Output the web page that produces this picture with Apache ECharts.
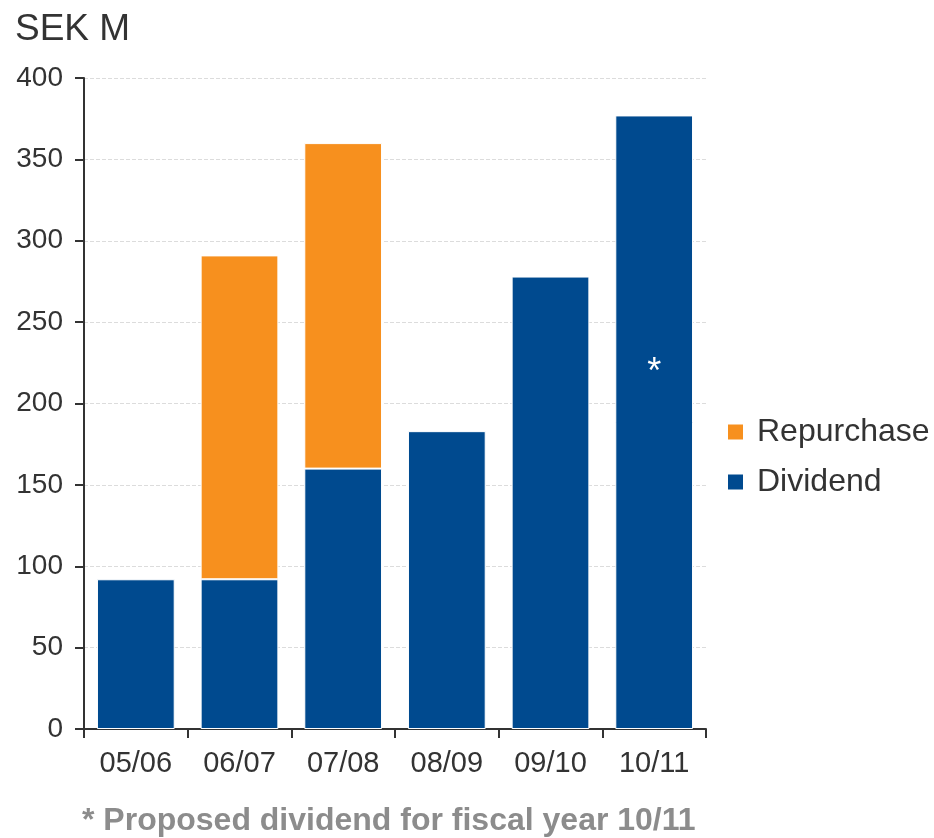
<!DOCTYPE html>
<html>
<head>
<meta charset="utf-8">
<script src="https://cdn.jsdelivr.net/npm/echarts@6/dist/echarts.min.js"></script>
<style>html,body{margin:0;padding:0;background:#fff;}#c{width:934px;height:838px;}</style>
</head>
<body>
<div id="c"></div>
<script>
var categories = ['05/06', '06/07', '07/08', '08/09', '09/10', '10/11'];
var dividend = [92, 92, 160, 183, 278, 377];
var repurchase = [null, 199, 200, null, null, null];
var yTicks = { min: 0, max: 400, interval: 50 };
var unitLabel = 'SEK M';
var footnote = '* Proposed dividend for fiscal year 10/11';

var BLUE = '#004A8F', ORANGE = '#F7901E', TXT = '#333333';
var FONT = '"Liberation Sans", Arial, sans-serif';

var dividendData = dividend.map(function (v, i) {
  if (i === categories.length - 1) {
    return { value: v, label: { show: true, formatter: '*', position: ['50%', '42%'], color: '#fff', fontSize: 36, fontFamily: FONT, align: 'center', verticalAlign: 'middle' } };
  }
  return v;
});

var chart = echarts.init(document.getElementById('c'), null, { renderer: 'canvas' });
chart.setOption({
  backgroundColor: '#fff',
  animation: false,
  title: [
    { text: unitLabel, left: 15, top: 11, padding: 0, textStyle: { fontSize: 37, fontWeight: 'normal', color: TXT, fontFamily: FONT } },
    { text: footnote, left: 82, top: 805, padding: 0, textStyle: { fontSize: 32, fontWeight: 'bold', color: '#8C8C8C', fontFamily: FONT } }
  ],
  legend: {
    data: ['Repurchase', 'Dividend'],
    orient: 'vertical',
    left: 726, top: 416, padding: 0,
    itemWidth: 17, itemHeight: 17, itemGap: 18,
    icon: 'rect',
    textStyle: { fontSize: 32, color: TXT, fontFamily: FONT, padding: [0, 0, 0, 8] }
  },
  grid: { left: 84, right: 228, top: 78, bottom: 109, containLabel: false },
  xAxis: {
    type: 'category',
    data: categories,
    axisLine: { lineStyle: { color: TXT, width: 2 } },
    axisTick: { show: true, length: 9, lineStyle: { color: TXT, width: 2 } },
    axisLabel: { fontSize: 29, color: TXT, fontFamily: FONT, margin: 20 }
  },
  yAxis: {
    type: 'value',
    min: yTicks.min, max: yTicks.max, interval: yTicks.interval,
    axisLine: { show: true, lineStyle: { color: TXT, width: 2 } },
    axisTick: { show: true, length: 9, lineStyle: { color: TXT, width: 2 } },
    axisLabel: { fontSize: 28, color: TXT, fontFamily: FONT, margin: 21 },
    splitLine: { show: true, lineStyle: { color: '#dcdcdc', type: 'dashed', width: 1 } }
  },
  series: [
    {
      name: 'Dividend', type: 'bar', stack: 'total', data: dividendData,
      barCategoryGap: '25%',
      itemStyle: { color: BLUE, borderColor: '#fff', borderWidth: 1 }
    },
    {
      name: 'Repurchase', type: 'bar', stack: 'total', data: repurchase,
      barCategoryGap: '25%',
      itemStyle: { color: ORANGE, borderColor: '#fff', borderWidth: 1 }
    }
  ]
});
</script>
</body>
</html>
